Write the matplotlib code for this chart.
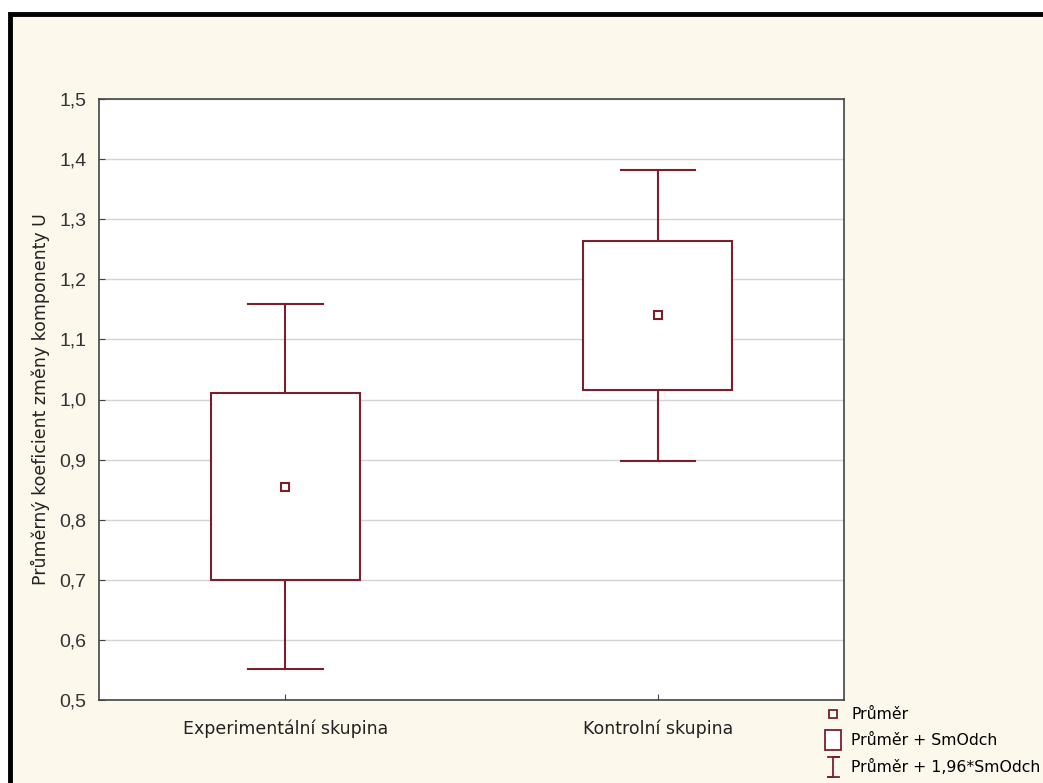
import numpy as np
import matplotlib
matplotlib.use("Agg")
import matplotlib.pyplot as plt
from matplotlib.patches import Rectangle
from matplotlib.lines import Line2D
from matplotlib.legend_handler import HandlerBase

# skupiny, průměry a směrodatné odchylky
skupiny = ["Experimentální skupina", "Kontrolní skupina"]
prumer = [0.855, 1.140]
smodch = [0.155, 0.1235]
yticks = [0.5, 0.6, 0.7, 0.8, 0.9, 1.0, 1.1, 1.2, 1.3, 1.4, 1.5]
legenda = ["Průměr", "Průměr + SmOdch", "Průměr + 1,96*SmOdch"]

barva = "#7a1f2b"
pozadi = "#fdf8ec"


class HandlerWhisker(HandlerBase):
    # svislá čára s koncovými příčkami
    def create_artists(self, legend, orig_handle, xd, yd, width, height, fontsize, trans):
        cx = xd + width / 2.0
        y0 = yd - 0.45 * height
        y1 = yd + 1.35 * height
        c = 0.3 * width
        ln = Line2D([cx - c, cx + c, cx, cx, cx - c, cx + c],
                    [y1, y1, y1, y0, y0, y0],
                    color=barva, lw=1.3, transform=trans)
        return [ln]


class HandlerBox(HandlerBase):
    def create_artists(self, legend, orig_handle, xd, yd, width, height, fontsize, trans):
        w = 0.85 * width
        r = Rectangle((xd + (width - w) / 2.0, yd - 0.5 * height), w, 1.9 * height,
                      facecolor="white", edgecolor=barva, lw=1.3, transform=trans)
        return [r]


fig = plt.figure(figsize=(10.43, 7.83), dpi=100)
fig.patch.set_facecolor("white")
# rámeček kolem celého grafu
ram = Rectangle((10 / 1043, -0.05), 1.1, 1 - 14 / 783 + 0.05,
                transform=fig.transFigure, facecolor=pozadi,
                edgecolor="black", lw=3.5, zorder=-10)
fig.patches.append(ram)

ax = fig.add_axes([99 / 1043, 1 - 700 / 783, 745 / 1043, 601 / 783])
ax.set_facecolor("white")

x = np.arange(len(skupiny))
prumer = np.array(prumer)
smodch = np.array(smodch)

sirka_boxu = 0.4
sirka_pricky = 0.1
for xi, m, s in zip(x, prumer, smodch):
    # vousy: průměr +- 1,96*SmOdch
    ax.plot([xi, xi], [m + s, m + 1.96 * s], color=barva, lw=1.5, zorder=3)
    ax.plot([xi, xi], [m - s, m - 1.96 * s], color=barva, lw=1.5, zorder=3)
    ax.plot([xi - sirka_pricky, xi + sirka_pricky], [m + 1.96 * s] * 2, color=barva, lw=1.5, zorder=3)
    ax.plot([xi - sirka_pricky, xi + sirka_pricky], [m - 1.96 * s] * 2, color=barva, lw=1.5, zorder=3)
    # box: průměr +- SmOdch
    ax.add_patch(Rectangle((xi - sirka_boxu / 2, m - s), sirka_boxu, 2 * s,
                           facecolor="white", edgecolor=barva, lw=1.5, zorder=3))
ax.plot(x, prumer, ls="none", marker="s", ms=6, mfc="white", mec=barva, mew=1.5, zorder=4)

ax.set_xlim(-0.5, 1.5)
ax.set_ylim(0.5, 1.5)
ax.set_xticks(x)
ax.set_xticklabels(skupiny, fontsize=12.5, family="DejaVu Sans", color="#222222")
ax.set_yticks(yticks)
ax.set_yticklabels([("%.1f" % v).replace(".", ",") for v in yticks],
                   fontsize=14, family="Liberation Sans", color="#333333")
ax.tick_params(direction="in", length=4, width=0.8, color="#444444", pad=9)
ax.tick_params(axis="x", pad=14)
ax.yaxis.grid(True, color="#d4d4d4", lw=1)
ax.set_axisbelow(True)
for sp in ax.spines.values():
    sp.set_color("#444444")
    sp.set_linewidth(1.2)

ax.set_ylabel("Průměrný koeficient změny komponenty U", fontsize=12.5,
              family="DejaVu Sans", color="#222222", labelpad=7)

h_prumer = Line2D([], [], ls="none", marker="s", ms=6, mfc="white", mec=barva, mew=1.3)
h_box = Rectangle((0, 0), 1, 1)
h_vous = Line2D([], [])
fig.legend([h_prumer, h_box, h_vous], legenda,
           handler_map={Rectangle: HandlerBox(), h_vous: HandlerWhisker()},
           loc="upper left", bbox_to_anchor=(824 / 1043, 1 - 707 / 783),
           frameon=False, handlelength=1.2, handletextpad=0.55,
           labelspacing=0.7, borderaxespad=0, borderpad=0,
           prop={"family": "DejaVu Sans", "size": 11.3})

fig.savefig("out.png", dpi=100, facecolor=fig.get_facecolor())
